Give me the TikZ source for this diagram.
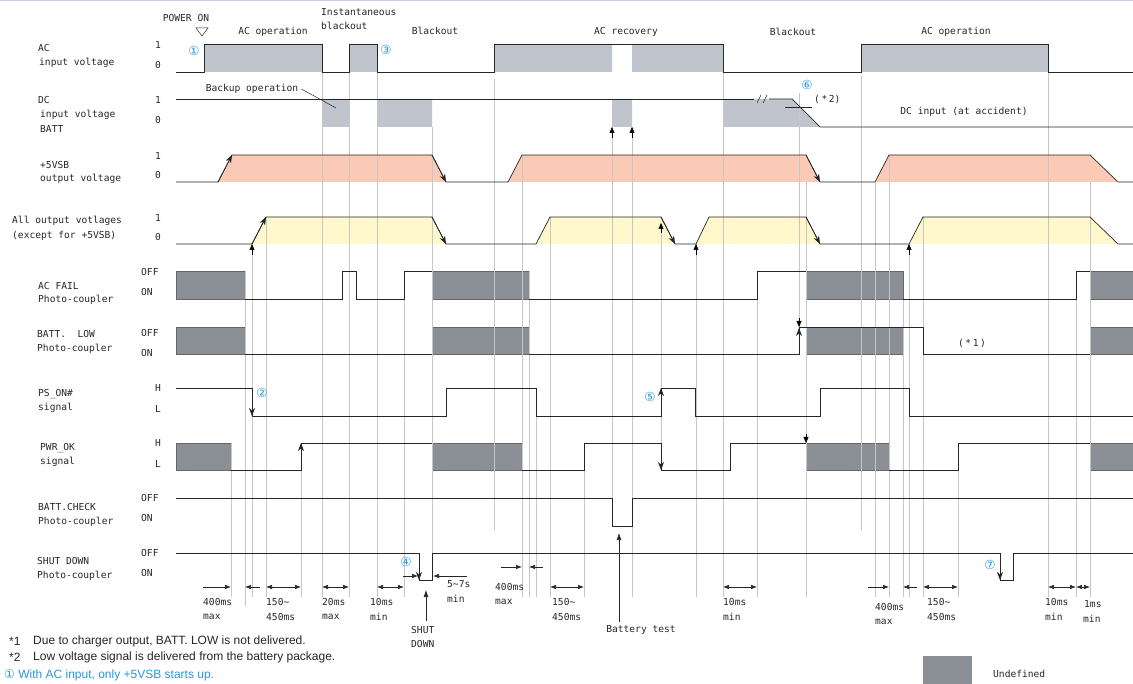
\documentclass[tikz,border=0pt]{standalone}
\usepackage{fontspec}
\setmainfont{Liberation Sans}
\newfontfamily\gothic{DejaVu Sans Mono}
\newfontfamily\circfont{DejaVu Sans}
\usetikzlibrary{arrows.meta}
\definecolor{acgray}{RGB}{192,196,204}
\definecolor{undefgray}{RGB}{138,144,150}
\definecolor{vsbpink}{RGB}{250,202,182}
\definecolor{outyellow}{RGB}{255,248,204}
\definecolor{numblue}{RGB}{40,150,220}
\definecolor{topline}{RGB}{200,200,232}
\begin{document}
\begin{tikzpicture}[x=1pt,y=-1pt,
        sig/.style={black!85, line width=0.7pt},
        guide/.style={black!22, line width=0.4pt},
        undef/.style={fill=undefgray, draw=black!60, line width=0.6pt},
        txt/.style={font=\gothic\fontsize{9.6}{11}\selectfont, anchor=west, inner sep=0pt, text=black!85},
        ctr/.style={txt, anchor=center},
        num/.style={font=\circfont\fontsize{12.5}{14}\selectfont, text=numblue, inner sep=0pt},
        note/.style={font=\fontsize{12}{14}\selectfont, anchor=west, inner sep=0pt, text=black!85},
        ramp/.style={sig, -{Stealth[length=8pt,width=6pt]}},
        tri/.style={black, line width=0.5pt, -{Triangle[length=6pt,width=5pt]}},
        dim/.style={black!85, line width=0.6pt, {Latex[length=6pt,width=4.5pt]}-{Latex[length=6pt,width=4.5pt]}},
        dimr/.style={black!85, line width=0.6pt, -{Latex[length=6pt,width=4.5pt]}},
        ]
                \useasboundingbox (0,0) rectangle (1133,684);
                \draw[topline, line width=1pt] (0,1) -- (1133,1);

                % fills
                \fill[acgray] (204,44) rectangle (322,72) (349,44) rectangle (377,72)
                        (494,44) rectangle (612,72) (632,44) rectangle (723,72) (861,44) rectangle (1048,72);
                \fill[acgray] (322,99) rectangle (349,127) (377,99) rectangle (432,127) (612,99) rectangle (632,127);
                \fill[acgray] (723,99) -- (792,99) -- (820,127) -- (723,127) -- cycle;
                \fill[vsbpink] (218,182) -- (232,155) -- (432,155) -- (446,182) -- cycle;
                \fill[vsbpink] (508,182) -- (522,155) -- (806,155) -- (820,182) -- cycle;
                \fill[vsbpink] (875,182) -- (889,155) -- (1090,155) -- (1118,182) -- cycle;
                \fill[outyellow] (252,244) -- (266,217) -- (432,217) -- (446,244) -- cycle;
                \fill[outyellow] (536,244) -- (550,217) -- (661,217) -- (675,244) -- cycle;
                \fill[outyellow] (696,244) -- (709,217) -- (806,217) -- (820,244) -- cycle;
                \fill[outyellow] (909,244) -- (923,217) -- (1090,217) -- (1118,244) -- cycle;

                % undefined areas
                \foreach \ya/\yb in {271/299, 327/354} {
                        \draw[undef] (176,\ya) rectangle (245,\yb);
                        \draw[undef] (432,\ya) rectangle (529,\yb);
                        \draw[undef] (806,\ya) rectangle (903,\yb);
                        \draw[undef] (1090,\ya) rectangle (1133,\yb);
                }
                \draw[undef] (176,443) rectangle (231,470);
                \draw[undef] (432,443) rectangle (522,470);
                \draw[undef] (806,443) rectangle (889,470);
                \draw[undef] (1090,443) rectangle (1133,470);

                % guide lines
                \foreach \x/\ya/\yb in {231/443/597, 245/271/606, 252/248/597, 266/217/597, 301/443/597,
                        322/72/597, 349/72/597, 377/72/597, 404/271/597, 432/127/580, 494/79/530,
                        522/155/597, 529/271/597, 536/388/597, 550/217/597, 584/443/597, 612/127/526,
                        632/127/597, 661/229/470, 696/244/597, 723/72/597, 757/271/597, 799/93/354,
                        806/182/597, 861/76/530, 875/182/597, 889/155/597, 903/299/597, 909/244/597,
                        923/217/597, 958/443/597, 1048/72/597, 1076/271/597, 1090/182/597}
                        \draw[guide] (\x,\ya) -- (\x,\yb);

                % signals
                \draw[sig] (176,72) -- (204,72) -- (204,44) -- (322,44) -- (322,72) -- (349,72) -- (349,44) -- (377,44)
                        -- (377,72) -- (494,72) -- (494,44) -- (723,44) -- (723,72) -- (861,72) -- (861,44) -- (1048,44)
                        -- (1048,72) -- (1133,72);
                \draw[sig] (176,99) -- (754,99);
                \draw[sig] (769,99) -- (792,99) -- (820,127) -- (1133,127);
                \draw[sig, line width=0.5pt] (757,103) -- (761,95) (763,103) -- (767,95);
                \draw[sig] (176,182) -- (218,182) -- (232,155) -- (432,155) -- (446,182) -- (508,182) -- (522,155)
                        -- (806,155) -- (820,182) -- (875,182) -- (889,155) -- (1090,155) -- (1118,182) -- (1133,182);
                \draw[sig] (176,244) -- (252,244) -- (266,217) -- (432,217) -- (446,244) -- (536,244) -- (550,217)
                        -- (661,217) -- (675,244) -- (696,244) -- (709,217) -- (806,217) -- (820,244) -- (909,244)
                        -- (923,217) -- (1090,217) -- (1118,244) -- (1133,244);
                \draw[sig] (245,299) -- (342,299) -- (342,271) -- (356,271) -- (356,299) -- (404,299) -- (404,271) -- (432,271);
                \draw[sig] (529,299) -- (757,299) -- (757,271) -- (806,271);
                \draw[sig] (903,299) -- (1076,299) -- (1076,271) -- (1090,271);
                \draw[sig] (245,354) -- (432,354);
                \draw[sig] (529,354) -- (799,354) -- (799,327) -- (923,327) -- (923,354) -- (1090,354);
                \draw[sig] (176,388) -- (252,388) -- (252,416) -- (446,416) -- (446,388) -- (536,388) -- (536,416)
                        -- (661,416) -- (661,388) -- (695,388) -- (695,416) -- (820,416) -- (820,388) -- (909,388)
                        -- (909,416) -- (1133,416);
                \draw[sig] (231,470) -- (301,470) -- (301,443) -- (432,443);
                \draw[sig] (522,470) -- (584,470) -- (584,443) -- (661,443) -- (661,470) -- (730,470) -- (730,443) -- (806,443);
                \draw[sig] (889,470) -- (958,470) -- (958,443) -- (1090,443);
                \draw[sig] (176,498) -- (612,498) -- (612,526) -- (632,526) -- (632,498) -- (1133,498);
                \draw[sig] (176,553) -- (419,553) -- (419,580) -- (432,580) -- (432,553) -- (1000,553) -- (1000,580)
                        -- (1013,580) -- (1013,553) -- (1133,553);

                % arrows on edges
                \draw[ramp] (218,182) -- (232,155);
                \draw[ramp] (432,155) -- (446,182);
                \draw[ramp] (806,155) -- (820,182);
                \draw[ramp] (252,244) -- (266,217);
                \draw[ramp] (432,217) -- (446,244);
                \draw[ramp] (661,217) -- (675,244);
                \draw[ramp] (806,217) -- (820,244);
                \draw[ramp] (252,388) -- (252,416);
                \draw[ramp] (661,416) -- (661,388);
                \draw[ramp] (301,470) -- (301,443);
                \draw[ramp] (661,443) -- (661,470);
                \draw[ramp] (799,354) -- (799,328);
                \draw[ramp] (419,566) -- (419,580);
                \draw[ramp] (1000,566) -- (1000,580);
                \draw[tri] (612,138) -- (612,127);
                \draw[tri] (632,138) -- (632,127);
                \draw[tri] (252,255) -- (252,244);
                \draw[tri] (661,233) -- (661,223);
                \draw[tri] (696,255) -- (696,244);
                \draw[tri] (909,255) -- (909,244);
                \draw[tri] (799,318) -- (799,327);
                \draw[tri] (806,434) -- (806,443);

                % row labels
                \node[txt] (ac)   at (38,48)  {AC};
                \node[txt] (ac2)  at (39,63)  {input voltage};
                \node[txt] (dc)   at (38,100) {DC};
                \node[txt] (dc2)  at (40,115) {input voltage};
                \node[txt] (dc3)  at (40,129) {BATT};
                \node[txt] (vsb)  at (40,165) {+5VSB};
                \node[txt] (vsb2) at (40,179) {output voltage};
                \node[txt] (out)  at (12,221) {All output votlages};
                \node[txt] (out2) at (12,236) {(except for +5VSB)};
                \node[txt] (acf)  at (38,286) {AC FAIL};
                \node[txt] (acf2) at (38,300) {Photo-coupler};
                \node[txt] (bl)   at (37,334) {BATT.\ \ LOW};
                \node[txt] (bl2)  at (37,349) {Photo-coupler};
                \node[txt] (pso)  at (38,394) {PS\_ON\#};
                \node[txt] (pso2) at (38,408) {signal};
                \node[txt] (pok)  at (40,448) {PWR\_OK};
                \node[txt] (pok2) at (40,462) {signal};
                \node[txt] (bc)   at (38,507) {BATT.CHECK};
                \node[txt] (bc2)  at (38,522) {Photo-coupler};
                \node[txt] (sd)   at (37,561) {SHUT DOWN};
                \node[txt] (sd2)  at (37,576) {Photo-coupler};

                % levels
                \foreach \n/\ya/\yb in {r1/45/65, r2/100/120, r3/156/175, r4/218/237} {
                        \node[txt] (\n hi) at (155,\ya) {1};
                        \node[txt] (\n lo) at (155,\yb) {0};
                }
                \foreach \n/\ya/\yb in {r5/272/292, r6/333/353, r9/498/518, r10/553/573} {
                        \node[txt] (\n hi) at (141,\ya) {OFF};
                        \node[txt] (\n lo) at (141,\yb) {ON};
                }
                \foreach \n/\ya/\yb in {r7/388/409, r8/443/464} {
                        \node[txt] (\n hi) at (155,\ya) {H};
                        \node[txt] (\n lo) at (155,\yb) {L};
                }

                % phase labels
                \node[ctr] (pwron) at (186,18) {POWER ON};
                \draw[black!85, line width=0.5pt] (196,28) -- (208,28) -- (202,36) -- cycle;
                \node[ctr] (acop1) at (273,32) {AC operation};
                \node[txt] (inst)  at (321,12) {Instantaneous};
                \node[txt] (inst2) at (321,26) {blackout};
                \node[ctr] (bo1)   at (435,31) {Blackout};
                \node[ctr] (acrec) at (626,32) {AC recovery};
                \node[ctr] (bo2)   at (793,32) {Blackout};
                \node[ctr] (acop2) at (956,32) {AC operation};
                \node[ctr] (backup) at (252,89) {Backup operation};
                \draw[black!85, line width=0.5pt] (backup.east) ++(3,0) -- (336,108);
                \node[ctr] (dcacc) at (964,112) {DC input (at accident)};
                \coordinate (s2a) at (785,107);
                \coordinate (s2b) at (812,107);
                \draw[black!85, line width=0.5pt] (s2a) -- (s2b);
                \node[txt] (star2) at (814,99) {(\,*\,2)};
                \node[ctr] (star1) at (972,343) {(\,*\,1\,)};

                % circled numbers
                \node[num] (c1) at (194,51)  {①};
                \node[num] (c2) at (262,393) {②};
                \node[num] (c3) at (386,50)  {③};
                \node[num] (c4) at (406,562) {④};
                \node[num] (c5) at (650,397) {⑤};
                \node[num] (c6) at (807,85)  {⑥};
                \node[num] (c7) at (990,565) {⑦};

                % shut down and battery test
                \node[txt] (sdn)  at (411,630) {SHUT};
                \node[txt] (sdn2) at (411,644) {DOWN};
                \draw[sig, line width=0.6pt, -{Latex[length=7pt,width=5pt]}] (426,621) -- (426,590);
                \node[ctr] (btest) at (641,630) {Battery test};
                \draw[sig, line width=0.6pt, -{Latex[length=7pt,width=5pt]}] (619,622) -- (619,533);
                \draw[dimr] (403,576) -- (418,576);
                \draw[dimr] (467,576) -- (433,576);
                \node[txt] (t57)  at (447,584) {5\textasciitilde 7s};
                \node[txt] (t57b) at (447,599) {min};

                % timing dimensions
                \draw[dimr] (203,587) -- (231,587);
                \draw[dimr] (260,587) -- (245,587);
                \draw[dim] (266,587) -- (301,587);
                \draw[dim] (322,587) -- (349,587);
                \draw[dim] (377,587) -- (404,587);
                \draw[dimr] (501,567) -- (522,567);
                \draw[dimr] (543,567) -- (529,567);
                \draw[dim] (550,587) -- (584,587);
                \draw[dim] (723,587) -- (757,587);
                \draw[dimr] (868,587) -- (889,587);
                \draw[dimr] (917,587) -- (903,587);
                \draw[dim] (923,587) -- (958,587);
                \draw[dim] (1048,587) -- (1076,587);
                \draw[dim] (1076,587) -- (1090,587);
                \node[txt] (d1)  at (203,602) {400ms};
                \node[txt] (d1b) at (203,617) {max};
                \node[txt] (d2)  at (266,602) {150\textasciitilde};
                \node[txt] (d2b) at (266,617) {450ms};
                \node[txt] (d3)  at (322,602) {20ms};
                \node[txt] (d3b) at (322,617) {max};
                \node[txt] (d4)  at (370,602) {10ms};
                \node[txt] (d4b) at (370,617) {min};
                \node[txt] (d5)  at (495,587) {400ms};
                \node[txt] (d5b) at (495,602) {max};
                \node[txt] (d6)  at (552,602) {150\textasciitilde};
                \node[txt] (d6b) at (552,617) {450ms};
                \node[txt] (d7)  at (723,602) {10ms};
                \node[txt] (d7b) at (723,617) {min};
                \node[txt] (d8)  at (875,607) {400ms};
                \node[txt] (d8b) at (875,622) {max};
                \node[txt] (d9)  at (927,602) {150\textasciitilde};
                \node[txt] (d9b) at (927,617) {450ms};
                \node[txt] (d10)  at (1045,602) {10ms};
                \node[txt] (d10b) at (1045,617) {min};
                \node[txt] (d11)  at (1084,604) {1ms};
                \node[txt] (d11b) at (1083,619) {min};

                % notes and legend
                \node[note] (n1a) at (9,641) {*1};
                \node[note] (n1)  at (33,641) {Due to charger output, BATT. LOW is not delivered.};
                \node[note] (n2a) at (9,657) {*2};
                \node[note] (n2)  at (33,657) {Low voltage signal is delivered from the battery package.};
                \node[note, text=numblue, font=\fontsize{12}{14}\selectfont] (n3) at (4,675) {{\circfont ①} With AC input, only +5VSB starts up.};
                \fill[undefgray] (923,656) rectangle (972,690);
                \node[txt] (undefd) at (993,674) {Undefined};
            \end{tikzpicture}
\end{document}
